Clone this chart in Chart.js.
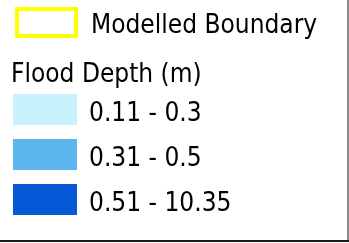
<!DOCTYPE html>
<html>
<head>
<meta charset="utf-8">
<script src="https://cdn.jsdelivr.net/npm/chart.js@4"></script>
<style>
html,body{margin:0;padding:0;background:#fff;}
#wrap{width:349px;height:243px;position:relative;}
</style>
</head>
<body>
<div id="wrap"><canvas id="c" width="349" height="243"></canvas></div>
<script>
// ---- data ----
const boundaryLabel = 'Modelled Boundary';
const groupTitle = 'Flood Depth (m)';
const depthClasses = ['0.11 - 0.3', '0.31 - 0.5', '0.51 - 10.35'];
// ---- styles ----
const depthColors = ['#c9f3fc', '#5cb5ec', '#0558d6'];
const boundaryColor = '#ffff00';

const datasets = [{label: boundaryLabel, data: [], backgroundColor: 'rgba(0,0,0,0)', borderColor: boundaryColor, borderWidth: 4}];
depthClasses.forEach((c, i) => datasets.push({label: c, data: [], backgroundColor: depthColors[i], borderWidth: 0}));

const FONT = '26px "DejaVu Sans", Verdana, sans-serif';
const SX = 0.9;

function txt(ctx, s, x, y) {
  ctx.save();
  ctx.translate(x, y);
  ctx.scale(SX, 1);
  ctx.fillText(s, 0, 0);
  ctx.restore();
}

const legendPlugin = {
  id: 'mapLegend',
  afterDraw(chart) {
    const ctx = chart.ctx;
    const ds = chart.data.datasets;
    ctx.save();
    // frame lines (right and bottom)
    ctx.fillStyle = '#8a8a8a';
    ctx.fillRect(347, 0, 2, 241);
    ctx.fillStyle = '#1a1a1a';
    ctx.fillRect(0, 240, 349, 2);

    ctx.font = FONT;
    ctx.textBaseline = 'alphabetic';
    ctx.textAlign = 'left';
    // boundary item
    ctx.strokeStyle = ds[0].borderColor;
    ctx.lineWidth = ds[0].borderWidth;
    ctx.strokeRect(17, 9, 59, 27);
    ctx.fillStyle = '#000';
    txt(ctx, ds[0].label, 91, 33);
    // group title
    txt(ctx, groupTitle, 11, 82);
    // classes
    for (let i = 1; i < ds.length; i++) {
      const y = 94 + (i - 1) * 45;
      ctx.fillStyle = ds[i].backgroundColor;
      ctx.fillRect(13, y, 64, 31);
      ctx.fillStyle = '#000';
      txt(ctx, ds[i].label, 89, y + 27);
    }
    ctx.restore();
  }
};

new Chart(document.getElementById('c'), {
  type: 'bar',
  data: {labels: [], datasets: datasets},
  options: {
    responsive: false,
    animation: false,
    devicePixelRatio: 1,
    plugins: {legend: {display: false}, tooltip: {enabled: false}},
    scales: {x: {display: false}, y: {display: false}}
  },
  plugins: [legendPlugin]
});
</script>
</body>
</html>
